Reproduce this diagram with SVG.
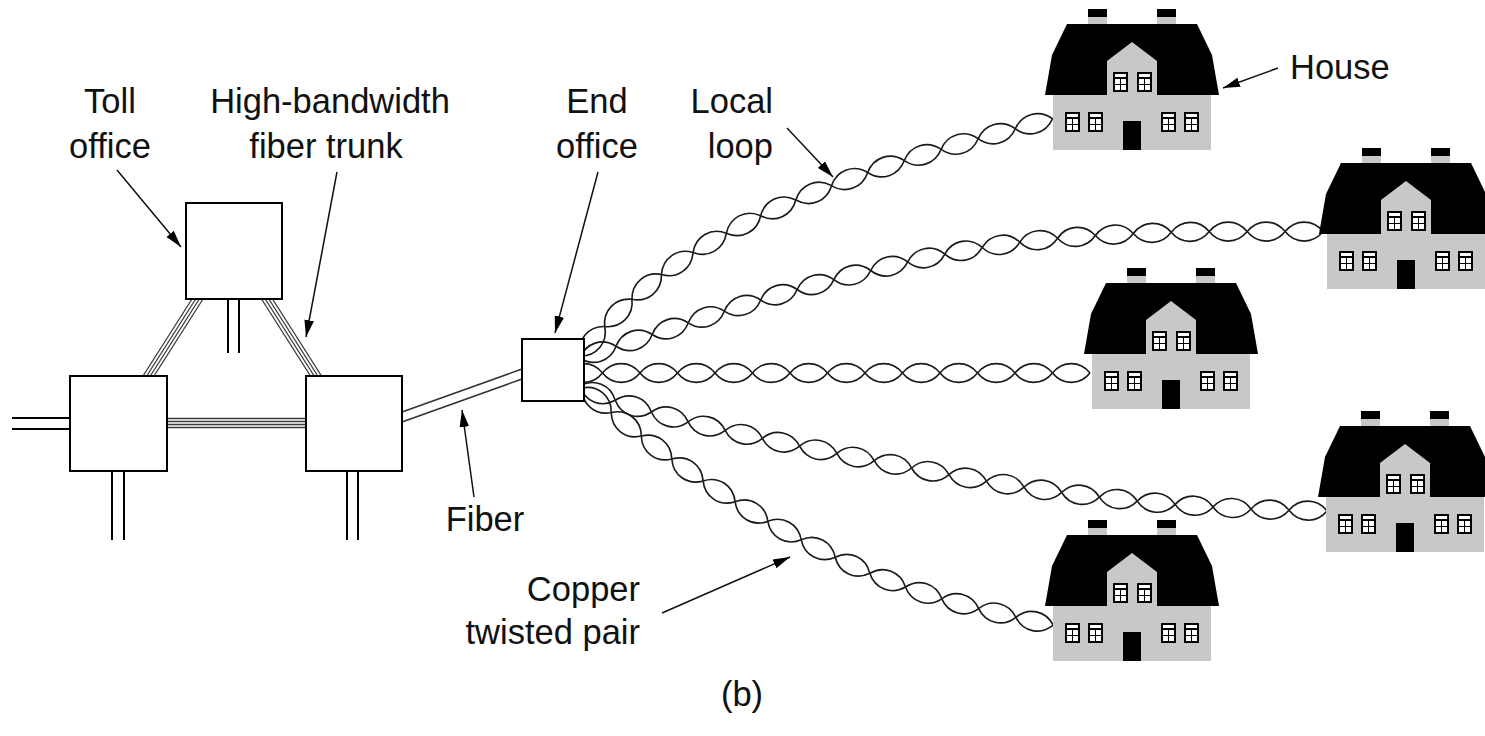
<svg xmlns="http://www.w3.org/2000/svg" xmlns:xlink="http://www.w3.org/1999/xlink" width="1485" height="736" viewBox="0 0 1485 736">
  <style>
    .lbl { font-family: "Liberation Sans", Arial, sans-serif; font-size: 34.5px; fill: #111; }
    .box { fill: #fff; stroke: #000; stroke-width: 2; }
    .pair2 { stroke: #000; stroke-width: 2; fill: none; }
    .trunk { stroke: #3a3a3a; stroke-width: 1.3; fill: none; }
    .fiber { stroke: #333; stroke-width: 1.6; fill: none; }
    .lead { stroke: #111; stroke-width: 1.5; fill: none; marker-end: url(#head); }
    .gray { fill: #c8c8c8; }
  </style>
  <defs>
    <marker id="head" markerUnits="userSpaceOnUse" viewBox="0 -6 18 12" refX="17" refY="0" markerWidth="18" markerHeight="12" orient="auto">
      <path d="M0,-4.8 L17,0 L0,4.8 z" fill="#000"/>
    </marker>
    <!-- one twist of a copper pair: two rounded strands crossing at both ends -->
    <path id="tw" d="M0,0 c10,12.5 27.5,12.5 37.5,0 M0,0 c10,-12.5 27.5,-12.5 37.5,0" fill="none" stroke="#1a1a1a" stroke-width="1.6"/>
    <g id="win">
      <rect width="15" height="20" fill="#000"/>
      <rect x="2" y="2" width="11" height="3" fill="#fff"/>
      <rect x="2" y="7" width="5" height="5" fill="#fff"/>
      <rect x="8" y="7" width="5" height="5" fill="#fff"/>
      <rect x="2" y="13" width="5" height="5" fill="#fff"/>
      <rect x="8" y="13" width="5" height="5" fill="#fff"/>
    </g>
    <g id="house-art">
      <rect x="43" y="9" width="19" height="8" fill="#000"/>
      <rect x="43" y="17" width="19" height="8" class="gray"/>
      <rect x="112" y="9" width="19" height="8" fill="#000"/>
      <rect x="112" y="17" width="19" height="8" class="gray"/>
      <polygon points="22,24 152,24 167,55 174,95 0,95 7,55" fill="#000"/>
      <rect x="8" y="95" width="158" height="55" class="gray"/>
      <polygon points="62,96 62,61 87,42 112,61 112,96" class="gray"/>
      <use href="#win" x="68" y="72"/>
      <use href="#win" x="92" y="72"/>
      <use href="#win" x="20" y="112"/>
      <use href="#win" x="43" y="112"/>
      <use href="#win" x="116" y="112"/>
      <use href="#win" x="139" y="112"/>
      <rect x="78" y="121" width="18" height="29" fill="#000"/>
    </g>
  </defs>

  <rect width="1485" height="736" fill="#fff"/>

  <g id="connectors">
    <!-- fiber trunks between offices -->
    <g class="trunk">
      <path d="M192,299 L143,376 M195.7,299 L146.7,376 M199.3,299 L150.3,376 M203,299 L154,376"/>
      <path d="M261.5,299 L310.5,376 M265.2,299 L314.2,376 M268.8,299 L317.8,376 M272.5,299 L321.5,376"/>
      <path d="M167,418.5 H306 M167,421.5 H306 M167,424.5 H306 M167,427.5 H306"/>
    </g>
    <!-- outgoing double lines -->
    <path class="pair2" d="M228,299 V353 M239,299 V353"/>
    <path class="pair2" d="M12,418 H70 M12,429 H70"/>
    <path class="pair2" d="M112,471 V540 M124,471 V540"/>
    <path class="pair2" d="M347,471 V540 M358,471 V540"/>
    <!-- fiber to the end office -->
    <path class="fiber" d="M402,412 L522,369 M402,422 L522,379"/>

    <!-- local loops: twisted pairs fanning out from the end office -->
    <g id="loop-1" transform="translate(580,356) scale(1.0267)">
      <use href="#tw" transform="rotate(-50)"/>
      <use href="#tw" transform="translate(24.1,-28.73) rotate(-45)"/>
      <use href="#tw" transform="translate(50.62,-55.25) rotate(-40)"/>
      <use href="#tw" transform="translate(79.35,-79.35) rotate(-35)"/>
      <use href="#tw" transform="translate(110.07,-100.86) rotate(-30)"/>
      <use href="#tw" transform="translate(142.55,-119.61) rotate(-27)"/>
      <use href="#tw" transform="translate(175.96,-136.63) rotate(-24)"/>
      <use href="#tw" transform="translate(210.22,-151.88) rotate(-22)"/>
      <use href="#tw" transform="translate(244.99,-165.93) rotate(-20)"/>
      <use href="#tw" transform="translate(280.23,-178.76) rotate(-18)"/>
      <use href="#tw" transform="translate(315.89,-190.35) rotate(-17)"/>
      <use href="#tw" transform="translate(351.75,-201.31) rotate(-16)"/>
      <use href="#tw" transform="translate(387.8,-211.65) rotate(-15)"/>
      <use href="#tw" transform="translate(424.02,-221.36) rotate(-15)"/>
    </g>
    <g id="loop-2" transform="translate(580,358) scale(1.0123)">
      <use href="#tw" transform="rotate(-18)"/>
      <use href="#tw" transform="translate(35.66,-11.59) rotate(-18)"/>
      <use href="#tw" transform="translate(71.32,-23.18) rotate(-18)"/>
      <use href="#tw" transform="translate(106.98,-34.77) rotate(-18)"/>
      <use href="#tw" transform="translate(142.64,-46.36) rotate(-17)"/>
      <use href="#tw" transform="translate(178.5,-57.32) rotate(-16)"/>
      <use href="#tw" transform="translate(214.55,-67.66) rotate(-15)"/>
      <use href="#tw" transform="translate(250.77,-77.37) rotate(-14)"/>
      <use href="#tw" transform="translate(287.16,-86.44) rotate(-13)"/>
      <use href="#tw" transform="translate(323.7,-94.88) rotate(-12)"/>
      <use href="#tw" transform="translate(360.38,-102.68) rotate(-10)"/>
      <use href="#tw" transform="translate(397.31,-109.19) rotate(-8)"/>
      <use href="#tw" transform="translate(434.45,-114.41) rotate(-6)"/>
      <use href="#tw" transform="translate(471.74,-118.33) rotate(-4)"/>
      <use href="#tw" transform="translate(509.15,-120.95) rotate(-3)"/>
      <use href="#tw" transform="translate(546.6,-122.91) rotate(-2)"/>
      <use href="#tw" transform="translate(584.08,-124.22) rotate(-1)"/>
      <use href="#tw" transform="translate(621.57,-124.87)"/>
      <use href="#tw" transform="translate(659.07,-124.87)"/>
      <use href="#tw" transform="translate(696.57,-124.87)"/>
    </g>
    <g id="loop-3" transform="translate(565,373)">
      <use href="#tw"/>
      <use href="#tw" x="37.5"/>
      <use href="#tw" x="75"/>
      <use href="#tw" x="112.5"/>
      <use href="#tw" x="150"/>
      <use href="#tw" x="187.5"/>
      <use href="#tw" x="225"/>
      <use href="#tw" x="262.5"/>
      <use href="#tw" x="300"/>
      <use href="#tw" x="337.5"/>
      <use href="#tw" x="375"/>
      <use href="#tw" x="412.5"/>
      <use href="#tw" x="450"/>
      <use href="#tw" x="487.5"/>
    </g>
    <g id="loop-4" transform="translate(580,386) scale(1.014)">
      <use href="#tw" transform="rotate(22)"/>
      <use href="#tw" transform="translate(34.77,14.05) rotate(18)"/>
      <use href="#tw" transform="translate(70.43,25.64) rotate(15)"/>
      <use href="#tw" transform="translate(106.65,35.35) rotate(13)"/>
      <use href="#tw" transform="translate(143.19,43.79) rotate(12)"/>
      <use href="#tw" transform="translate(179.87,51.59) rotate(12)"/>
      <use href="#tw" transform="translate(216.55,59.39) rotate(11)"/>
      <use href="#tw" transform="translate(253.36,66.55) rotate(11)"/>
      <use href="#tw" transform="translate(290.17,73.71) rotate(11)"/>
      <use href="#tw" transform="translate(326.98,80.87) rotate(10)"/>
      <use href="#tw" transform="translate(363.91,87.38) rotate(10)"/>
      <use href="#tw" transform="translate(400.84,93.89) rotate(9)"/>
      <use href="#tw" transform="translate(437.88,99.76) rotate(8)"/>
      <use href="#tw" transform="translate(475.02,104.98) rotate(7)"/>
      <use href="#tw" transform="translate(512.24,109.55) rotate(6)"/>
      <use href="#tw" transform="translate(549.53,113.47) rotate(5)"/>
      <use href="#tw" transform="translate(586.89,116.74) rotate(4)"/>
      <use href="#tw" transform="translate(624.3,119.36) rotate(3)"/>
      <use href="#tw" transform="translate(661.75,121.32) rotate(2)"/>
      <use href="#tw" transform="translate(699.23,122.63) rotate(1)"/>
    </g>
    <g id="loop-5" transform="translate(582,388) scale(1.018)">
      <use href="#tw" transform="rotate(40)"/>
      <use href="#tw" transform="translate(28.73,24.1) rotate(38)"/>
      <use href="#tw" transform="translate(58.28,47.19) rotate(37)"/>
      <use href="#tw" transform="translate(88.23,69.76) rotate(35)"/>
      <use href="#tw" transform="translate(118.95,91.27) rotate(33)"/>
      <use href="#tw" transform="translate(150.4,111.69) rotate(31)"/>
      <use href="#tw" transform="translate(182.54,131) rotate(29)"/>
      <use href="#tw" transform="translate(215.34,149.18) rotate(27)"/>
      <use href="#tw" transform="translate(248.75,166.2) rotate(25)"/>
      <use href="#tw" transform="translate(282.74,182.05) rotate(21)"/>
      <use href="#tw" transform="translate(317.75,195.49) rotate(18)"/>
      <use href="#tw" transform="translate(353.41,207.08) rotate(15)"/>
      <use href="#tw" transform="translate(389.63,216.79) rotate(13)"/>
      <use href="#tw" transform="translate(426.17,225.23) rotate(12)"/>
    </g>

    <!-- callout leaders -->
    <path class="lead" d="M117,170 L181,247"/>
    <path class="lead" d="M337,172 L306,337"/>
    <path class="lead" d="M598,172 L555,333"/>
    <path class="lead" d="M787,128 L833,177"/>
    <path class="lead" d="M1278,68 L1223,88"/>
    <path class="lead" d="M474,497 L462,410"/>
    <path class="lead" d="M662,613 L790,557"/>
  </g>

  <g id="toll-office"><rect class="box" x="186" y="203" width="96" height="96"/></g>
  <g id="office-left"><rect class="box" x="70" y="376" width="97" height="95"/></g>
  <g id="office-right"><rect class="box" x="306" y="376" width="96" height="95"/></g>
  <g id="end-office"><rect class="box" x="522" y="339" width="62" height="62"/></g>

  <g id="house-1"><use href="#house-art" transform="translate(1045,0)"/></g>
  <g id="house-2"><use href="#house-art" transform="translate(1319,139)"/></g>
  <g id="house-3"><use href="#house-art" transform="translate(1084,259)"/></g>
  <g id="house-4"><use href="#house-art" transform="translate(1318,402)"/></g>
  <g id="house-5"><use href="#house-art" transform="translate(1045,511)"/></g>

  <g id="labels" class="lbl">
    <text x="110" y="113" text-anchor="middle">Toll</text>
    <text x="110" y="158" text-anchor="middle">office</text>
    <text x="330" y="113" text-anchor="middle">High-bandwidth</text>
    <text x="326" y="158" text-anchor="middle">fiber trunk</text>
    <text x="597" y="113" text-anchor="middle">End</text>
    <text x="597" y="158" text-anchor="middle">office</text>
    <text x="773" y="113" text-anchor="end">Local</text>
    <text x="773" y="158" text-anchor="end">loop</text>
    <text x="1290" y="79">House</text>
    <text x="485" y="531" text-anchor="middle">Fiber</text>
    <text x="640" y="601" text-anchor="end">Copper</text>
    <text x="640" y="644" text-anchor="end">twisted pair</text>
    <text x="742" y="706" text-anchor="middle">(b)</text>
  </g>
</svg>
